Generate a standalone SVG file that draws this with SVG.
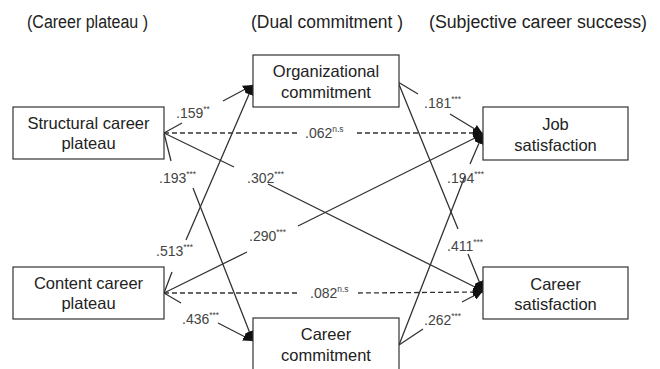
<svg xmlns="http://www.w3.org/2000/svg" width="660" height="369" viewBox="0 0 660 369">
  <style>
    .box { fill: #ffffff; stroke: #333333; stroke-width: 1.2; }
    .node-text { font-family: "Liberation Sans", Arial, sans-serif; font-size: 16.5px; fill: #222222; text-anchor: middle; }
    .title { font-family: "Liberation Sans", Arial, sans-serif; font-size: 18px; fill: #222222; }
    .edge { fill: none; stroke: #333333; stroke-width: 1.3; }
    .dashed { stroke-dasharray: 5 3; }
    .lbl { font-family: "Liberation Sans", Arial, sans-serif; font-size: 14px; fill: #444444; }
    .sup { font-size: 8.5px; }
  </style>
  <defs>
    <marker id="arrow" markerWidth="11" markerHeight="9" refX="10" refY="4.5" orient="auto" markerUnits="userSpaceOnUse">
      <path d="M0,0 L10,4.5 L0,9 z" fill="#111111"/>
    </marker>
  </defs>

  <!-- Column headings -->
  <g id="headings">
    <text class="title" x="27" y="28" textLength="121" lengthAdjust="spacingAndGlyphs">(Career plateau )</text>
    <text class="title" x="251" y="28" textLength="152" lengthAdjust="spacingAndGlyphs">(Dual commitment )</text>
    <text class="title" x="429" y="28" textLength="218" lengthAdjust="spacingAndGlyphs">(Subjective career success)</text>
  </g>

  <!-- Connectors -->
  <g id="connectors">
    <!-- from Structural career plateau -->
    <path class="edge" d="M164,133 L182,123 M223,101 L253,85" marker-end="url(#arrow)"/>
    <path class="edge dashed" d="M164,133 L298,133 M357,133 L483,133" marker-end="url(#arrow)"/>
    <path class="edge" d="M164,133 L171,161 M193,188 L253,341" marker-end="url(#arrow)"/>
    <path class="edge" d="M164,133 L234,167 M268,184 L483,291" marker-end="url(#arrow)"/>
    <!-- from Content career plateau -->
    <path class="edge" d="M164,293 L172,272 M186,240 L253,85" marker-end="url(#arrow)"/>
    <path class="edge" d="M164,293 L247,252 M298,226 L483,134" marker-end="url(#arrow)"/>
    <path class="edge dashed" d="M164,293 L300,293 M358,293 L483,292" marker-end="url(#arrow)"/>
    <path class="edge" d="M164,293 L181,303 M218,323 L253,341" marker-end="url(#arrow)"/>
    <!-- from Organizational commitment -->
    <path class="edge" d="M398,82 L418,94 M450,114 L483,134" marker-end="url(#arrow)"/>
    <path class="edge" d="M398,82 L458,229 M468,254 L483,291" marker-end="url(#arrow)"/>
    <!-- from Career commitment -->
    <path class="edge" d="M399,345 L465,176 M470,164 L483,134" marker-end="url(#arrow)"/>
    <path class="edge" d="M399,345 L423,329 M462,302 L483,291" marker-end="url(#arrow)"/>
  </g>

  <!-- Path coefficients -->
  <g id="labels">
    <text class="lbl" x="176" y="118">.159<tspan class="sup" dy="-6">**</tspan></text>
    <text class="lbl" x="305" y="138">.062<tspan class="sup" dy="-6">n.s</tspan></text>
    <text class="lbl" x="159" y="183">.193<tspan class="sup" dy="-6">***</tspan></text>
    <text class="lbl" x="247" y="183">.302<tspan class="sup" dy="-6">***</tspan></text>
    <text class="lbl" x="424" y="108">.181<tspan class="sup" dy="-6">***</tspan></text>
    <text class="lbl" x="447" y="183">.194<tspan class="sup" dy="-6">***</tspan></text>
    <text class="lbl" x="156" y="256">.513<tspan class="sup" dy="-6">***</tspan></text>
    <text class="lbl" x="249" y="241">.290<tspan class="sup" dy="-6">***</tspan></text>
    <text class="lbl" x="310" y="298">.082<tspan class="sup" dy="-6">n.s</tspan></text>
    <text class="lbl" x="182" y="324">.436<tspan class="sup" dy="-6">***</tspan></text>
    <text class="lbl" x="447" y="251">.411<tspan class="sup" dy="-6">***</tspan></text>
    <text class="lbl" x="424" y="325">.262<tspan class="sup" dy="-6">***</tspan></text>
  </g>

  <!-- Nodes -->
  <g id="structural-career-plateau">
    <rect class="box" x="13" y="107" width="151" height="52"/>
    <text class="node-text" x="88.5" y="129">Structural career</text>
    <text class="node-text" x="88.5" y="149">plateau</text>
  </g>
  <g id="content-career-plateau">
    <rect class="box" x="13" y="267" width="151" height="52"/>
    <text class="node-text" x="88.5" y="289">Content career</text>
    <text class="node-text" x="88.5" y="309">plateau</text>
  </g>
  <g id="organizational-commitment">
    <rect class="box" x="253" y="55" width="146" height="52"/>
    <text class="node-text" x="326" y="77">Organizational</text>
    <text class="node-text" x="326" y="98">commitment</text>
  </g>
  <g id="career-commitment">
    <rect class="box" x="253" y="318" width="146" height="53"/>
    <text class="node-text" x="326" y="340">Career</text>
    <text class="node-text" x="326" y="361">commitment</text>
  </g>
  <g id="job-satisfaction">
    <rect class="box" x="483" y="107" width="145" height="53"/>
    <text class="node-text" x="555.5" y="130">Job</text>
    <text class="node-text" x="555.5" y="151">satisfaction</text>
  </g>
  <g id="career-satisfaction">
    <rect class="box" x="483" y="267" width="145" height="52"/>
    <text class="node-text" x="555.5" y="290">Career</text>
    <text class="node-text" x="555.5" y="310">satisfaction</text>
  </g>
</svg>
